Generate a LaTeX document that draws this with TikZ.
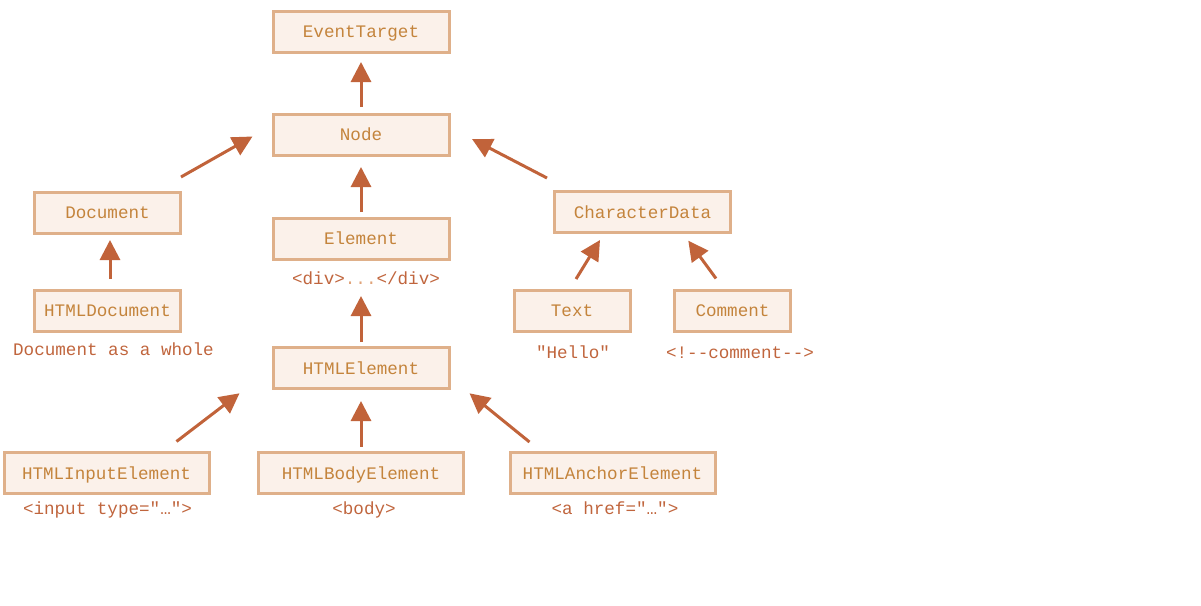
\documentclass[tikz,border=0pt]{standalone}
\usepackage{fontspec}
\setmonofont{Liberation Mono}
\usetikzlibrary{arrows.meta,calc}

\definecolor{boxfill}{HTML}{FBF1EA}
\definecolor{boxline}{HTML}{DFB08A}
\definecolor{boxtext}{HTML}{C4843C}
\definecolor{notetext}{HTML}{C0653D}
\definecolor{notedots}{HTML}{E0A47A}
\definecolor{arrowcol}{HTML}{C1633A}

\tikzset{
	classbox/.style={draw=boxline, fill=boxfill, line width=3pt, text=boxtext,
		minimum height=41pt, inner sep=0pt,
		font=\ttfamily\fontsize{17.6}{20}\selectfont,
		text height=14pt, text depth=1.5pt},
	tagnote/.style={text=notetext, inner sep=0pt,
		font=\ttfamily\fontsize{17.6}{20}\selectfont,
		text height=14pt, text depth=1.5pt},
	inherit/.style={draw=arrowcol, line width=3pt,
		-{Triangle[length=20pt,width=20pt]}},
}

\begin{document}
\begin{tikzpicture}[x=1pt,y=-1pt]
					\useasboundingbox (0,0) rectangle (1201,605);
					
					% top of the tree
					\node[classbox, minimum width=176pt] (evtarget) at (361,31.5) {EventTarget};
					\node[classbox, minimum width=176pt] (nodecls) at (361,134.5) {Node};
					
					% second row
					\node[classbox, minimum width=146pt] (document) at (107.5,212.5) {Document};
					\node[classbox, minimum width=176pt] (element) at (361,238.5) {Element};
					\node[classbox, minimum width=176pt] (chardata) at (642.5,212) {CharacterData};
					\node[tagnote] (divnote) at (366,278) {<div>{\color{notedots}...}</div>};
					
					% third row
					\node[classbox, minimum width=146pt] (htmldoc) at (107.5,310.5) {HTMLDocument};
					\node[tagnote] (docnote) at (113.5,349) {Document as a whole};
					\node[classbox, minimum width=116pt] (text) at (572,310.5) {Text};
					\node[tagnote] (hellonote) at (573,352) {"Hello"};
					\node[classbox, minimum width=116pt] (comment) at (732.5,310.5) {Comment};
					\node[tagnote] (commentnote) at (740,352) {<!--comment-->};
					\node[classbox, minimum width=176pt] (htmlel) at (361,368) {HTMLElement};
					
					% bottom row
					\node[classbox, minimum width=205pt] (input) at (106.5,473) {HTMLInputElement};
					\node[tagnote] (inputnote) at (107.5,508) {<input type="…">};
					\node[classbox, minimum width=205pt] (body) at (361,473) {HTMLBodyElement};
					\node[tagnote] (bodynote) at (364,508) {<body>};
					\node[classbox, minimum width=205pt] (anchor) at (612.5,473) {HTMLAnchorElement};
					\node[tagnote] (anchornote) at (615,508) {<a href="…">};
					
					% inheritance arrows
					\draw[inherit] ($(nodecls.north)+(0,-5.5)$) -- ($(evtarget.south)+(0,8.5)$);
					\draw[inherit] ($(document.north east)+(-1,-13.5)$) -- ($(nodecls.west)+(-19,2)$);
					\draw[inherit] ($(element.north)+(0,-4.5)$) -- ($(nodecls.south)+(0,10.5)$);
					\draw[inherit] ($(chardata.north west)+(-6,-12)$) -- ($(nodecls.east)+(21.5,4.5)$);
					\draw[inherit] ($(htmldoc.north)+(2.5,-9.5)$) -- ($(document.south)+(2.5,5.5)$);
					\draw[inherit] ($(htmlel.north)+(0,-4)$) -- ($(element.south)+(0,35.5)$);
					\draw[inherit] ($(text.north)+(4,-9.5)$) -- ($(chardata.south)+(-42.5,6)$);
					\draw[inherit] ($(comment.north)+(-16.5,-10)$) -- ($(chardata.south)+(45.8,6.7)$);
					\draw[inherit] ($(input.north east)+(-34,-9.5)$) -- ($(htmlel.south west)+(-32,3.3)$);
					\draw[inherit] ($(body.north)+(0,-4.5)$) -- ($(htmlel.south)+(0,11)$);
					\draw[inherit] ($(anchor.north west)+(21,-9)$) -- ($(htmlel.south east)+(19,3.3)$);
\end{tikzpicture}
\end{document}
